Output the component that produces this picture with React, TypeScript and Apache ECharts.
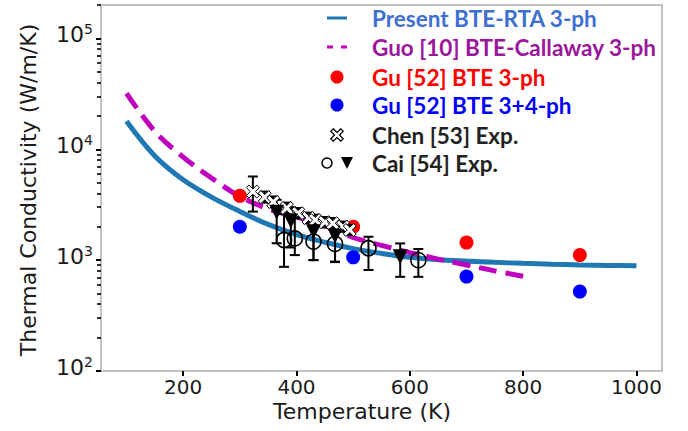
import React, { useEffect, useRef } from "react";
import * as echarts from "echarts";

// ---------- data ----------
const X_TICKS = [200, 400, 600, 800, 1000];
const Y_TICKS = [100, 1000, 10000, 100000];
const Y_MINOR = [
  200, 300, 400, 500, 600, 700, 800, 900,
  2000, 3000, 4000, 5000, 6000, 7000, 8000, 9000,
  20000, 30000, 40000, 50000, 60000, 70000, 80000, 90000,
  200000,
];

const TEMP_RTA = [100, 150, 200, 250, 300, 350, 400, 450, 500, 550, 600, 650, 700, 750, 800, 850, 900, 950, 1000];
const K_RTA = [17900, 8700, 5300, 3700, 2750, 2100, 1700, 1450, 1270, 1150, 1060, 1010, 980, 955, 935, 918, 905, 896, 890];

const TEMP_GUO = [100, 150, 200, 250, 300, 350, 400, 450, 500, 550, 600, 650, 700, 750, 800];
const K_GUO = [31900, 14500, 8500, 5500, 3750, 2900, 2450, 2050, 1600, 1360, 1170, 1020, 905, 800, 715];

const TEMP_GU = [300, 500, 700, 900];
const K_GU_3PH = [3800, 2000, 1440, 1110];
const K_GU_34PH = [2000, 1060, 710, 520];

const TEMP_CHEN = [323, 344, 359, 383, 403, 421, 433, 450, 464, 482, 494];
const K_CHEN = [4150, 3700, 3350, 2950, 2650, 2400, 2300, 2200, 2150, 2000, 1870];
const CHEN_LO = [2740, 3300, 3000, 2650, 2380, 2150, 2060, 1970, 1930, 1800, 1680];
const CHEN_HI = [5680, 4150, 3750, 3300, 2950, 2680, 2570, 2450, 2400, 2230, 2080];

const TEMP_CAI_TRI = [365, 390, 430, 468, 583];
const K_CAI_TRI = [2700, 2250, 1800, 1650, 1070];
const CAI_TRI_LO = [1420, 1300, 1000, 970, 707];
const CAI_TRI_HI = [3500, 3000, 2400, 2300, 1415];

const TEMP_CAI_CIRC = [378, 397, 430, 468, 527, 615];
const K_CAI_CIRC = [1520, 1570, 1470, 1400, 1280, 1000];
const CAI_CIRC_LO = [870, 1110, 1000, 960, 815, 707];
const CAI_CIRC_HI = [2600, 2800, 2100, 2000, 1625, 1260];

const LEGEND_LABELS = [
  "Present BTE-RTA 3-ph",
  "Guo [10] BTE-Callaway 3-ph",
  "Gu [52] BTE 3-ph",
  "Gu [52] BTE 3+4-ph",
  "Chen [53] Exp.",
  "Cai [54] Exp.",
];
const LEGEND_COLORS = ["#3f6fd2", "#9a169a", "#ff0000", "#0000ff", "#222222", "#222222"];

// ---------- helpers ----------
const zip2 = (a: number[], b: number[]) => a.map((v, i) => [v, b[i]]);
const zip4 = (a: number[], b: number[], c: number[], d: number[]) =>
  a.map((v, i) => [v, b[i], c[i], d[i]]);

const X_PATH = "path://M2 0L5 3L8 0L10 2L7 5L10 8L8 10L5 7L2 10L0 8L3 5L0 2Z";

const errorBarRender = (params: any, api: any) => {
  const x = api.value(0);
  const lo = api.value(2);
  const hi = api.value(3);
  const p1 = api.coord([x, lo]);
  const p2 = api.coord([x, hi]);
  const cap = 5;
  const st = { stroke: "#000", lineWidth: 2 };
  return {
    type: "group",
    children: [
      { type: "line", shape: { x1: p1[0], y1: p1[1], x2: p2[0], y2: p2[1] }, style: st },
      { type: "line", shape: { x1: p1[0] - cap, y1: p1[1], x2: p1[0] + cap, y2: p1[1] }, style: st },
      { type: "line", shape: { x1: p2[0] - cap, y1: p2[1], x2: p2[0] + cap, y2: p2[1] }, style: st },
    ],
  };
};

const AXIS_FONT = "DejaVu Sans";
const AXIS_COLOR = "#1a1a1a";

function buildLegend() {
  const els: any[] = [];
  const tx = 372;
  const ys = [18, 47, 77, 105, 135, 163];
  const ix = 337;
  LEGEND_LABELS.forEach((label, i) => {
    els.push({
      type: "text",
      x: tx,
      y: ys[i],
      style: {
        text: label,
        fill: LEGEND_COLORS[i],
        font: "bold 22.5px Lato",
        textAlign: "left",
        textVerticalAlign: "middle",
        align: "left",
        verticalAlign: "middle",
      },
    });
  });
  els.push({ type: "line", shape: { x1: ix - 10, y1: ys[0], x2: ix + 10, y2: ys[0] }, style: { stroke: "#1f77b4", lineWidth: 3 } });
  els.push({ type: "line", shape: { x1: ix - 10, y1: ys[1], x2: ix - 4, y2: ys[1] }, style: { stroke: "#bf00bf", lineWidth: 3 } });
  els.push({ type: "line", shape: { x1: ix + 4, y1: ys[1], x2: ix + 10, y2: ys[1] }, style: { stroke: "#bf00bf", lineWidth: 3 } });
  els.push({ type: "circle", shape: { cx: ix, cy: ys[2], r: 6.5 }, style: { fill: "#ff0000" } });
  els.push({ type: "circle", shape: { cx: ix, cy: ys[3], r: 6.5 }, style: { fill: "#0000ff" } });
  const s = 1.25;
  const xpts = [[2, 0], [5, 3], [8, 0], [10, 2], [7, 5], [10, 8], [8, 10], [5, 7], [2, 10], [0, 8], [3, 5], [0, 2]].map(
    (p) => [ix - 5 * s + p[0] * s, ys[4] - 5 * s + p[1] * s]
  );
  els.push({ type: "polygon", shape: { points: xpts }, style: { fill: "#fff", stroke: "#000", lineWidth: 1.2 } });
  els.push({ type: "circle", shape: { cx: ix - 10, cy: ys[5], r: 5 }, style: { fill: "#fff", stroke: "#000", lineWidth: 1.5 } });
  els.push({
    type: "polygon",
    shape: { points: [[ix + 4, ys[5] - 6], [ix + 16, ys[5] - 6], [ix + 10, ys[5] + 6]] },
    style: { fill: "#000" },
  });
  // axis names
  els.push({
    type: "text",
    x: 362,
    y: 411,
    style: {
      text: "Temperature (K)",
      fill: AXIS_COLOR,
      font: `22px "${AXIS_FONT}"`,
      textAlign: "center",
      textVerticalAlign: "middle",
      align: "center",
      verticalAlign: "middle",
    },
  });
  els.push({
    type: "text",
    x: 28,
    y: 190,
    rotation: Math.PI / 2,
    style: {
      text: "Thermal Conductivity (W/m/K)",
      fill: AXIS_COLOR,
      font: `22px "${AXIS_FONT}"`,
      textAlign: "center",
      textVerticalAlign: "middle",
      align: "center",
      verticalAlign: "middle",
    },
  });
  return els;
}

export default function App() {
  const ref = useRef<HTMLDivElement>(null);
  useEffect(() => {
    if (!ref.current) return;
    const chart = echarts.init(ref.current, undefined, { renderer: "svg" });
    const yCommon = {
      type: "log",
      logBase: 10,
      min: 100,
      max: 200000,
      position: "left",
      axisLine: { show: false },
      splitLine: { show: false },
      minorTick: { show: false },
    };
    const option: any = {
      animation: false,
      backgroundColor: "#ffffff",
      grid: {
        left: 101,
        top: 5,
        width: 561,
        height: 366,
        show: true,
        borderColor: "#b0b0b0",
        borderWidth: 1.5,
        backgroundColor: "transparent",
      },
      xAxis: {
        type: "value",
        min: 55,
        max: 1045,
        axisLine: { show: false },
        splitLine: { show: false },
        axisTick: { show: true, customValues: X_TICKS, length: 5, lineStyle: { color: "#000", width: 2 } },
        axisLabel: {
          customValues: X_TICKS,
          fontSize: 20,
          fontFamily: AXIS_FONT,
          color: AXIS_COLOR,
          margin: 6,
          formatter: (v: number) => String(Math.round(v)),
        },
      },
      yAxis: [
        {
          ...yCommon,
          axisTick: { show: true, customValues: Y_TICKS, length: 5, lineStyle: { color: "#000", width: 2 } },
          axisLabel: {
            customValues: Y_TICKS,
            margin: 8,
            padding: [0, 0, 8, 0],
            formatter: (v: number) => `{b|10}{s|${Math.round(Math.log10(v))}}`,
            rich: {
              b: { fontSize: 22, fontFamily: AXIS_FONT, color: AXIS_COLOR, lineHeight: 24 },
              s: { fontSize: 14, fontFamily: AXIS_FONT, color: AXIS_COLOR, verticalAlign: "top", lineHeight: 14 },
            },
          },
        },
        {
          ...yCommon,
          axisTick: { show: true, customValues: Y_MINOR, length: 4, lineStyle: { color: "#000", width: 1.6 } },
          axisLabel: { show: false },
        },
      ],
      graphic: buildLegend(),
      series: [
        {
          type: "line",
          name: "Present BTE-RTA 3-ph",
          data: zip2(TEMP_RTA, K_RTA),
          showSymbol: false,
          smooth: 0.35,
          lineStyle: { color: "#1f77b4", width: 5 },
          z: 2,
        },
        {
          type: "line",
          name: "Guo [10] BTE-Callaway 3-ph",
          data: zip2(TEMP_GUO, K_GUO),
          showSymbol: false,
          smooth: 0.35,
          lineStyle: { color: "#bf00bf", width: 5, type: [18, 9] },
          z: 3,
        },
        {
          type: "scatter",
          name: "Gu [52] BTE 3-ph",
          data: zip2(TEMP_GU, K_GU_3PH),
          symbolSize: 14,
          itemStyle: { color: "#ff0000", opacity: 1 },
          z: 4,
        },
        {
          type: "scatter",
          name: "Gu [52] BTE 3+4-ph",
          data: zip2(TEMP_GU, K_GU_34PH),
          symbolSize: 14,
          itemStyle: { color: "#0000ff", opacity: 1 },
          z: 4,
        },
        {
          type: "custom",
          name: "Chen err",
          renderItem: errorBarRender,
          data: zip4(TEMP_CHEN, K_CHEN, CHEN_LO, CHEN_HI),
          encode: { x: 0, y: 1 },
          z: 5,
        },
        {
          type: "custom",
          name: "Cai tri err",
          renderItem: errorBarRender,
          data: zip4(TEMP_CAI_TRI, K_CAI_TRI, CAI_TRI_LO, CAI_TRI_HI),
          encode: { x: 0, y: 1 },
          z: 5,
        },
        {
          type: "custom",
          name: "Cai circ err",
          renderItem: errorBarRender,
          data: zip4(TEMP_CAI_CIRC, K_CAI_CIRC, CAI_CIRC_LO, CAI_CIRC_HI),
          encode: { x: 0, y: 1 },
          z: 5,
        },
        {
          type: "scatter",
          name: "Chen [53] Exp.",
          data: zip2(TEMP_CHEN, K_CHEN),
          symbol: X_PATH,
          symbolSize: 13,
          itemStyle: { color: "#ffffff", borderColor: "#000", borderWidth: 1, opacity: 1 },
          z: 6,
        },
        {
          type: "scatter",
          name: "Cai [54] Exp. circles",
          data: zip2(TEMP_CAI_CIRC, K_CAI_CIRC),
          symbol: "circle",
          symbolSize: 15,
          itemStyle: { color: "rgba(0,0,0,0)", borderColor: "#000", borderWidth: 1.6, opacity: 1 },
          z: 7,
        },
        {
          type: "scatter",
          name: "Cai [54] Exp. triangles",
          data: zip2(TEMP_CAI_TRI, K_CAI_TRI),
          symbol: "triangle",
          symbolRotate: 180,
          symbolSize: 15,
          itemStyle: { color: "#000", opacity: 1 },
          z: 7,
        },
      ],
    };
    chart.setOption(option);
    return () => chart.dispose();
  }, []);
  return (
    <div
      ref={ref}
      style={{ position: "fixed", left: 0, top: 0, width: 688, height: 431, background: "#fff" }}
    />
  );
}
